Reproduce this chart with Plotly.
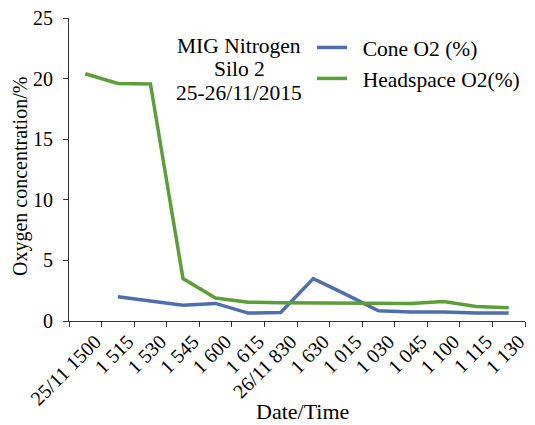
import plotly.graph_objects as go

categories = ["25/11 1500", "1 515", "1 530", "1 545", "1 600", "1 615", "26/11 830",
              "1 630", "1 015", "1 030", "1 045", "1 100", "1 115", "1 130"]
cone_o2 = [None, 2.0, 1.65, 1.3, 1.45, 0.65, 0.7, 3.5, 2.2, 0.85, 0.75, 0.75, 0.65, 0.65]
headspace_o2 = [20.4, 19.6, 19.55, 3.5, 1.9, 1.55, 1.5, 1.5, 1.45, 1.45, 1.45, 1.6, 1.2, 1.1]
y_ticks = [0, 5, 10, 15, 20, 25]
note_lines = ["MIG Nitrogen", "Silo 2", "25-26/11/2015"]

FONT = "Liberation Serif, Times New Roman, serif"
BLUE = "#4F6EAE"
GREEN = "#5C9E3A"

OFF = 8  # page body margin
# plot area in page pixels
L, R, T, B = 69, 525, 18, 321
W, H = R - L, B - T


def px(x):
    return (x - L) / W


def py(y):
    return (B - y) / H


fig = go.Figure()
fig.add_trace(go.Scatter(x=categories, y=cone_o2, mode="lines", name="\u00a0\u00a0Cone O2 (%)",
                         line=dict(color=BLUE, width=3.5), connectgaps=False))
fig.add_trace(go.Scatter(x=categories, y=headspace_o2, mode="lines",
                         name="\u00a0\u00a0Headspace O2(%)",
                         line=dict(color=GREEN, width=3.5)))

for txt, yc in zip(note_lines, [46, 69, 93]):
    fig.add_annotation(text=txt, xref="paper", yref="paper", x=px(239), y=py(yc),
                       xanchor="center", yanchor="middle", showarrow=False,
                       font=dict(family=FONT, size=21.5, color="black"))

fig.add_annotation(text="Date/Time", xref="paper", yref="paper", x=px(302), y=py(411),
                   xanchor="center", yanchor="middle", showarrow=False,
                   font=dict(family=FONT, size=22, color="black"))
fig.add_annotation(text="Oxygen concentration/%", xref="paper", yref="paper", x=px(20),
                   y=py(177), xanchor="center", yanchor="middle", showarrow=False,
                   textangle=-90, font=dict(family=FONT, size=20, color="black"))

fig.update_layout(
    width=535, height=425,
    margin=dict(l=L - OFF, r=535 - (R - OFF), t=T - OFF, b=425 - (B - OFF)),
    paper_bgcolor="white", plot_bgcolor="white",
    font=dict(family=FONT, size=20, color="black"),
    showlegend=True,
    legend=dict(x=px(312), y=py(27), xanchor="left", yanchor="top",
                bgcolor="rgba(0,0,0,0)", font=dict(family=FONT, size=21.5),
                tracegroupgap=0, itemwidth=30),
    xaxis=dict(type="category", categoryorder="array", categoryarray=categories,
               range=[-0.5, 13.5], tickson="boundaries", ticks="outside", ticklen=5,
               tickcolor="#333", showline=True, linecolor="#333", linewidth=1,
               showgrid=False, tickangle=-45, ticklabelshift=10, automargin=False,
               ticklabeloverflow="allow", tickfont=dict(family=FONT, size=20)),
    yaxis=dict(range=[0, 25], tickvals=y_ticks, ticks="outside", ticklen=5,
               tickcolor="#333", showline=True, linecolor="#333", linewidth=1,
               showgrid=False, zeroline=False, automargin=False, ticklabelstandoff=6,
               ticklabeloverflow="allow", tickfont=dict(family=FONT, size=20)),
)

fig.write_html("out.html")
